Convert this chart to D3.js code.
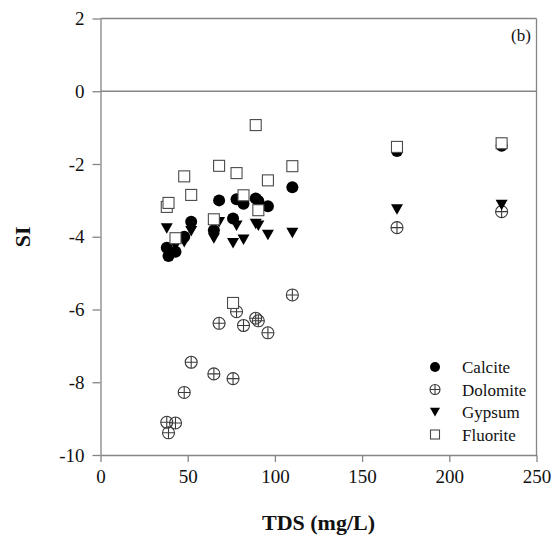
<!DOCTYPE html>
<html>
<head>
<meta charset="utf-8">
<script src="https://cdn.jsdelivr.net/npm/d3@7"></script>
<style>
  body { margin: 0; background: #fff; }
  svg text { font-family: 'Liberation Serif', 'Times New Roman', Tinos, 'DejaVu Serif', serif; }
</style>
</head>
<body>
<div id="chart"></div>
<script>
// sample TDS values (mg/L) and saturation indices
const tds      = [38, 39, 43, 48, 52, 65, 68, 76, 78, 82, 89, 90.5, 96, 110, 170, 230];
const calcite  = [-4.30, -4.53, -4.41, -4.00, -3.59, -3.82, -3.00, -3.50, -2.97, -3.09, -2.95, -3.02, -3.16, -2.64, -1.64, -1.50];
const dolomite = [-9.10, -9.39, -9.12, -8.28, -7.45, -7.77, -6.38, -7.90, -6.06, -6.44, -6.24, -6.31, -6.64, -5.60, -3.75, -3.31];
const gypsum   = [-3.77, -4.45, -4.25, -4.15, -3.85, -4.05, -3.60, -4.18, -3.70, -4.08, -3.65, -3.70, -3.95, -3.90, -3.25, -3.13];
const fluorite = [-3.18, -3.07, -4.04, -2.34, -2.85, -3.52, -2.05, -5.82, -2.25, -2.86, -0.93, -3.27, -2.45, -2.06, -1.53, -1.43];

const xTicks = [0, 50, 100, 150, 200, 250];
const yTicks = [-10, -8, -6, -4, -2, 0, 2];
const seriesNames = ['Calcite', 'Dolomite', 'Gypsum', 'Fluorite'];

const WIDTH = 560;
const HEIGHT = 537;
const MARGIN = { top: 18.5, right: 23.5, bottom: 82, left: 100.5 };
const AXIS_COLOR = '#858585';
const FONT = "'Liberation Serif', 'Times New Roman', Tinos, 'DejaVu Serif', serif";

const svg = d3.select('#chart')
  .append('svg')
    .attr('width', WIDTH)
    .attr('height', HEIGHT);

const x = d3.scaleLinear()
  .domain([0, 250])
  .range([MARGIN.left, WIDTH - MARGIN.right]);
const y = d3.scaleLinear()
  .domain([-10, 2])
  .range([HEIGHT - MARGIN.bottom, MARGIN.top]);

// frame: top and right edges plus the zero line
const frame = svg.append('g')
  .attr('stroke', AXIS_COLOR)
  .attr('stroke-width', 1.3);
frame.append('line')
  .attr('x1', x(0)).attr('x2', x(250))
  .attr('y1', y(2)).attr('y2', y(2));
frame.append('line')
  .attr('x1', x(250)).attr('x2', x(250))
  .attr('y1', y(2)).attr('y2', y(-10));
frame.append('line')
  .attr('x1', x(0)).attr('x2', x(250))
  .attr('y1', y(0)).attr('y2', y(0));

// axes
const xAxis = svg.append('g')
  .attr('transform', `translate(0, ${y(-10)})`)
  .call(d3.axisBottom(x).tickValues(xTicks).tickSize(7).tickSizeOuter(0).tickPadding(8));
const yAxis = svg.append('g')
  .attr('transform', `translate(${x(0)}, 0)`)
  .call(d3.axisLeft(y).tickValues(yTicks).tickSize(8).tickSizeOuter(0).tickPadding(8));

[xAxis, yAxis].forEach(g => {
  g.attr('font-family', FONT).attr('font-size', 19);
  g.select('.domain').attr('stroke', AXIS_COLOR).attr('stroke-width', 1.3);
  g.selectAll('.tick line').attr('stroke', AXIS_COLOR).attr('stroke-width', 1.3);
  g.selectAll('.tick text').attr('fill', '#111');
});
yAxis.selectAll('.tick text').text(d => d < 0 ? '-' + Math.abs(d) : d);

// axis titles
svg.append('text')
  .attr('x', (x(0) + x(250)) / 2)
  .attr('y', 530)
  .attr('text-anchor', 'middle')
  .attr('font-family', FONT)
  .attr('font-size', 22)
  .attr('font-weight', 'bold')
  .attr('fill', '#111')
  .text('TDS (mg/L)');
svg.append('text')
  .attr('transform', `translate(30, ${(y(2) + y(-10)) / 2}) rotate(-90)`)
  .attr('text-anchor', 'middle')
  .attr('font-family', FONT)
  .attr('font-size', 22)
  .attr('font-weight', 'bold')
  .attr('fill', '#111')
  .text('SI');

svg.append('text')
  .attr('x', 521)
  .attr('y', 41)
  .attr('text-anchor', 'middle')
  .attr('font-family', FONT)
  .attr('font-size', 17)
  .attr('fill', '#111')
  .text('(b)');

// marker painters, r is half the marker size
function drawCircle (g, r) {
  g.append('circle').attr('r', r).attr('fill', '#000');
}
function drawDolomite (g, r) {
  g.append('circle').attr('r', r).attr('fill', 'none').attr('stroke', '#3a3a3a').attr('stroke-width', 1.1);
  g.append('path')
    .attr('d', `M${-r},0H${r}M0,${-r}V${r}`)
    .attr('stroke', '#3a3a3a').attr('stroke-width', 1.1);
}
function drawTriangle (g, r) {
  const h = r * 1.75;
  g.append('path')
    .attr('d', `M${-r},${-h / 2}L${r},${-h / 2}L0,${h / 2}Z`)
    .attr('fill', '#000');
}
function drawSquare (g, r) {
  g.append('rect')
    .attr('x', -r).attr('y', -r)
    .attr('width', 2 * r).attr('height', 2 * r)
    .attr('fill', '#fff')
    .attr('stroke', '#4a4a4a')
    .attr('stroke-width', 1.1);
}

const series = [
  { name: seriesNames[0], values: calcite, draw: drawCircle, r: 6 },
  { name: seriesNames[1], values: dolomite, draw: drawDolomite, r: 6 },
  { name: seriesNames[2], values: gypsum, draw: drawTriangle, r: 6 },
  { name: seriesNames[3], values: fluorite, draw: drawSquare, r: 5.5 }
];

series.forEach(s => {
  svg.append('g')
    .selectAll('g')
    .data(s.values.map((v, i) => [tds[i], v]))
    .enter()
    .append('g')
      .attr('transform', d => `translate(${x(d[0])}, ${y(d[1])})`)
      .each(function () { s.draw(d3.select(this), s.r); });
});

// legend
const legend = svg.append('g').attr('transform', 'translate(435, 367)');
series.forEach((s, i) => {
  const row = legend.append('g').attr('transform', `translate(0, ${i * 22.5})`);
  s.draw(row.append('g'), s.r - 1);
  row.append('text')
    .attr('x', 27)
    .attr('y', 6)
    .attr('font-family', FONT)
    .attr('font-size', 17)
    .attr('fill', '#111')
    .text(s.name);
});
</script>
</body>
</html>
